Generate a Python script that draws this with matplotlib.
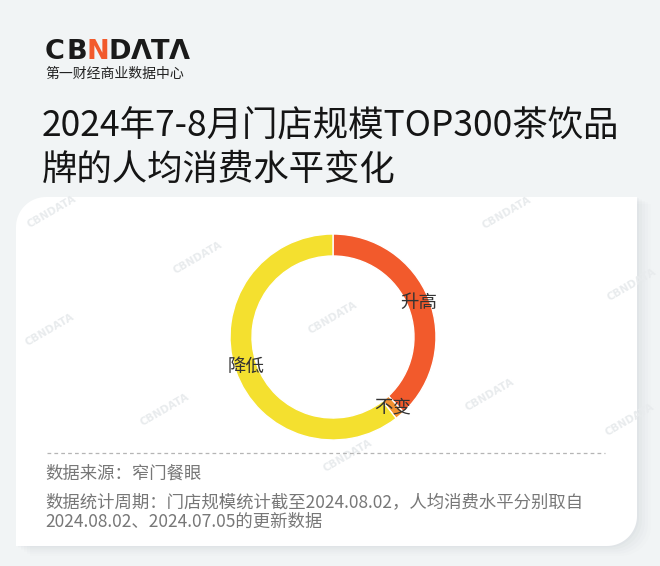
import matplotlib
matplotlib.use("Agg")
import matplotlib.pyplot as plt
import numpy as np
from matplotlib.patches import PathPatch
from matplotlib.path import Path

plt.rcParams['font.family'] = ['Noto Sans CJK SC', 'DejaVu Sans']

# ---- data ----
categories = ["升高", "不变", "降低"]
shares = [38.0, 1.5, 60.5]
colors = ["#F25A2C", "#F39131", "#F4E02F"]

title_lines = ["2024年7-8月门店规模TOP300茶饮品", "牌的人均消费水平变化"]
source_text = "数据来源：窄门餐眼"
period_lines = ["数据统计周期：门店规模统计截至2024.08.02，人均消费水平分别取自",
                "2024.08.02、2024.07.05的更新数据"]

W, H = 660, 566
fig = plt.figure(figsize=(W / 100, H / 100), dpi=100)
fig.patch.set_facecolor("#F1F4F5")


def fx(x):
    return x / W


def fy(y):
    return 1 - y / H


# background layer axes
bg = fig.add_axes([0, 0, 1, 1])
bg.set_xlim(0, W)
bg.set_ylim(H, 0)
bg.axis("off")


def card_path(x0, y0, x1, y1, r):
    # rounded top-left and bottom-right corners only (y axis points down)
    pts = []
    t = np.linspace(np.pi, 1.5 * np.pi, 20)
    pts += list(zip(x0 + r + r * np.cos(t), y0 + r + r * np.sin(t)))
    pts += [(x1, y0)]
    t = np.linspace(0, 0.5 * np.pi, 20)
    pts += list(zip(x1 - r + r * np.cos(t), y1 - r + r * np.sin(t)))
    pts += [(x0, y1)]
    pts += [pts[0]]
    codes = [Path.MOVETO] + [Path.LINETO] * (len(pts) - 2) + [Path.CLOSEPOLY]
    return Path(pts, codes)


# card shadow
for i, a in enumerate([0.04, 0.03, 0.025, 0.02, 0.015]):
    off = 2 + i * 3
    bg.add_patch(PathPatch(card_path(16 + off, 197 + off * 0.5, 637 + off, 546 + off * 0.7, 30),
                           facecolor="#7a8a94", edgecolor="none", alpha=a, zorder=1))
# card
bg.add_patch(PathPatch(card_path(16, 197, 637, 546, 30),
                       facecolor="white", edgecolor="none", zorder=2))

# watermarks
wm_pos = [(52, 212), (198, 258), (507, 213), (333, 318), (165, 410),
          (50, 330), (348, 456), (632, 285), (630, 420), (490, 395)]
for (x, y) in wm_pos:
    bg.text(x, y, "CBNDATA", fontsize=7.5, color="#E8EBED", rotation=30,
            ha="center", va="center", fontweight="bold", family="DejaVu Sans", zorder=3)

# logo
logo_letters = [("C", 55, "#1A1A1A"), ("B", 77, "#1A1A1A"), ("N", 97.5, "#F25A2C"),
                ("D", 120, "#1A1A1A"), ("Λ", 141, "#1A1A1A"), ("T", 160.5, "#1A1A1A"),
                ("Λ", 179.5, "#1A1A1A")]
for ch, x, c in logo_letters:
    bg.text(x, 52, ch, fontsize=19.5, fontweight="bold", color=c, ha="center", va="center",
            family="DejaVu Sans", zorder=4)
bg.text(45, 74, "第一财经商业数据中心", fontsize=10, fontweight="medium", color="#222222",
        ha="left", va="center", zorder=4)

# title
bg.text(42, 127, title_lines[0], fontsize=25.5, color="#151515", ha="left", va="center", zorder=4)
bg.text(42, 170, title_lines[1], fontsize=25.5, color="#151515", ha="left", va="center", zorder=4)

# dashed separator
bg.plot([47, 605], [453, 453], color="#B5B5B5", lw=0.9, ls=(0, (3, 2.5)), zorder=4)

# footer
bg.text(45, 474, source_text, fontsize=12.5, color="#777777", ha="left", va="center", zorder=4)
bg.text(45, 503, period_lines[0], fontsize=12.5, color="#777777", ha="left", va="center", zorder=4)
bg.text(45, 522, period_lines[1], fontsize=12.5, color="#777777", ha="left", va="center", zorder=4)

# donut
cx, cy, R = 333, 337, 103
ring = 22
ax = fig.add_axes([fx(cx - R), fy(cy + R), 2 * R / W, 2 * R / H])
ax.set_zorder(5)
wedges, texts = ax.pie(shares, labels=categories, colors=colors, startangle=90,
                       counterclock=False, radius=1,
                       labeldistance=(R - ring / 2) / R,
                       wedgeprops=dict(width=ring / R, edgecolor="white", linewidth=1.0),
                       textprops=dict(fontsize=13.3, color="#333333"))
for t in texts:
    t.set_ha("center")
    t.set_va("center")
ax.set_xlim(-1, 1)
ax.set_ylim(-1, 1)
ax.set_aspect("equal")
ax.axis("off")

fig.savefig("out.png", dpi=100, facecolor=fig.get_facecolor())
